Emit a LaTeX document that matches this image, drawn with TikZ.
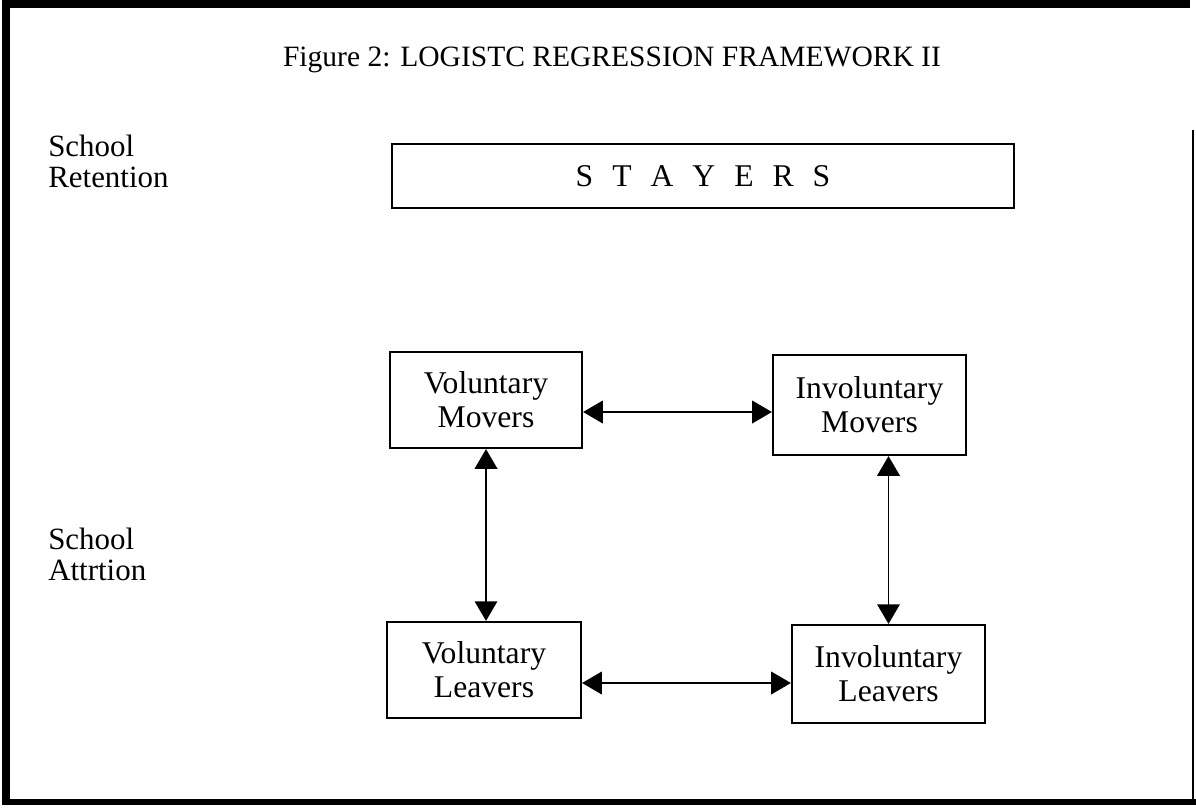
\documentclass[tikz,border=0pt]{standalone}
\usepackage{fontspec}
\setmainfont{Liberation Serif}
\usetikzlibrary{arrows.meta}
\begin{document}
\begin{tikzpicture}[x=0.025cm,y=-0.025cm,
  box/.style={draw,line width=1.5pt,rectangle,inner sep=0pt,align=center,font=\fontsize{22.5}{24}\selectfont},
  lab/.style={align=left,anchor=north west,inner sep=0pt,font=\fontsize{22}{22}\selectfont},
  conn/.style={line width=1.4pt,{Triangle[length=14pt,width=16pt]}-{Triangle[length=14pt,width=16pt]}}]
\useasboundingbox (0,0) rectangle (1196,808);
% frame
\draw[line width=5pt] (6,805) -- (6,4) -- (1190,4);
\draw[line width=4.5pt] (3,802) -- (1196,802);
\draw[line width=1.4pt] (1193,130) -- (1193,802);
% title
\node[font=\fontsize{21}{26}\selectfont] (title) at (612,60) {Figure 2: LOGISTC REGRESSION FRAMEWORK II};
% side labels
\node[lab] (ret) at (48,135) {School\\Retention};
\node[lab] (att) at (48,528) {School\\Attrtion};
% boxes
\node[box,minimum width=15.55cm,minimum height=1.6cm] (st) at (703,176)
  {S\hspace{0.6em}T\hspace{0.6em}A\hspace{0.6em}Y\hspace{0.6em}E\hspace{0.6em}R\hspace{0.6em}S};
\node[box,minimum width=4.8cm,minimum height=2.4cm] (vm) at (486,400) {Voluntary\\Movers};
\node[box,minimum width=4.825cm,minimum height=2.5cm] (im) at (869.5,405) {Involuntary\\Movers};
\node[box,minimum width=4.85cm,minimum height=2.4cm] (vl) at (484,670) {Voluntary\\Leavers};
\node[box,minimum width=4.825cm,minimum height=2.45cm] (il) at (888.5,674) {Involuntary\\Leavers};
% connectors
\coordinate (ytop) at (0,412);
\coordinate (ybot) at (0,683);
\draw[conn] (vm.east |- ytop) -- (im.west |- ytop);
\draw[conn] (vl.east |- ybot) -- (il.west |- ybot);
\draw[conn] (vm.south) -- (vm.south |- vl.north);
\draw[conn] (il.north |- im.south) -- (il.north);
\end{tikzpicture}
\end{document}
